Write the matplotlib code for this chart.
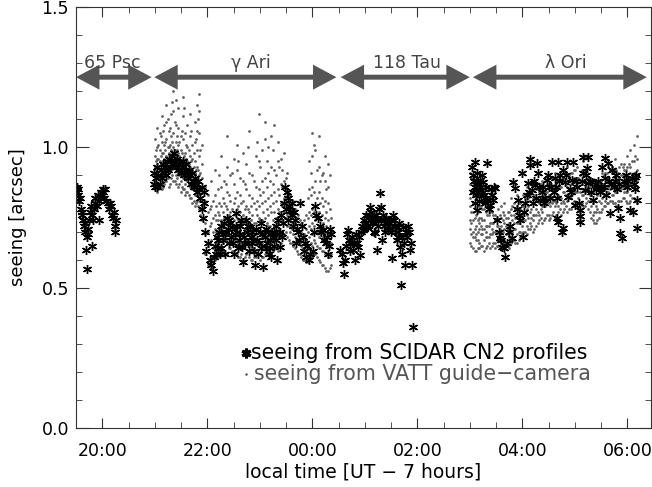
import numpy as np
import matplotlib.pyplot as plt
from matplotlib.patches import FancyArrowPatch

# SCIDAR seeing (asterisks); time in hours, values past 24 are after midnight
scidar_t_psc = [19.50, 19.51, 19.52, 19.53, 19.54, 19.56, 19.57, 19.59, 19.61, 19.62,
                19.64, 19.65, 19.67, 19.68, 19.70, 19.72, 19.73, 19.75, 19.77, 19.78,
                19.80, 19.82, 19.84, 19.86, 19.87, 19.89, 19.91, 19.93, 19.95, 19.97,
                19.99, 20.01, 20.02, 20.04, 20.06, 20.08, 20.10, 20.12, 20.14, 20.16,
                20.18, 20.20, 20.22, 20.24, 20.25, 20.26, 19.69, 19.71, 19.80, 19.94]
scidar_v_psc = [0.85, 0.84, 0.86, 0.83, 0.85, 0.81, 0.82, 0.78, 0.76, 0.77,
                0.74, 0.72, 0.70, 0.73, 0.68, 0.69, 0.71, 0.74, 0.77, 0.79,
                0.76, 0.74, 0.78, 0.80, 0.82, 0.79, 0.83, 0.81, 0.82, 0.84,
                0.83, 0.85, 0.84, 0.82, 0.85, 0.81, 0.80, 0.78, 0.80, 0.79,
                0.76, 0.75, 0.77, 0.72, 0.70, 0.74, 0.635, 0.565, 0.65, 0.74]

scidar_t_ari = [20.98, 20.99, 21.01, 21.02, 21.04, 21.05, 21.07, 21.09, 21.11, 21.13,
                21.15, 21.17, 21.19, 21.21, 21.23, 21.25, 21.27, 21.29, 21.31, 21.33,
                21.35, 21.37, 21.39, 21.41, 21.43, 21.45, 21.47, 21.49, 21.51, 21.53,
                21.55, 21.57, 21.59, 21.61, 21.63, 21.65, 21.67, 21.69, 21.71, 21.73,
                21.75, 21.77, 21.79, 21.81, 21.83, 21.85, 21.87, 21.89, 21.90, 21.91,
                21.93, 21.94, 21.96, 21.98, 22.02, 22.05, 22.07, 22.10, 22.12, 22.15,
                22.18, 22.20, 22.22, 22.24, 22.27, 22.29, 22.31, 22.34, 22.37, 22.39,
                22.42, 22.44, 22.47, 22.50, 22.52, 22.55, 22.57, 22.60, 22.63, 22.66,
                22.68, 22.70, 22.73, 22.75, 22.78, 22.81, 22.83, 22.86, 22.89, 22.91,
                22.94, 22.97, 23.00, 23.03, 23.06, 23.09, 23.12, 23.14, 23.17, 23.20,
                23.23, 23.25, 23.28, 23.31, 23.33, 23.36, 23.39, 23.41, 23.44, 23.46,
                23.48, 23.51, 23.54, 23.56, 23.58, 23.61, 23.64, 23.67, 23.70, 23.73,
                23.75, 23.77, 23.80, 23.82, 23.86, 23.90, 23.93, 23.96, 24.01, 24.03,
                24.05, 24.08, 24.11, 24.14, 24.17, 24.20, 24.23, 24.26, 24.28, 24.30,
                24.32, 24.34, 24.36,
                22.16, 22.21, 22.26, 22.33, 22.36, 22.41, 22.46, 22.49, 22.54, 22.58,
                22.62, 22.65, 22.72, 22.77, 22.80, 22.85, 22.88, 22.93, 22.99, 23.02,
                23.05, 23.11, 23.16, 23.19, 23.22, 23.27, 23.30, 23.35, 23.38, 23.43,
                23.50, 23.53, 23.62, 23.66, 23.69, 23.84, 23.88]
scidar_v_ari = [0.87, 0.91, 0.86, 0.89, 0.93, 0.86, 0.90, 0.87, 0.92, 0.89,
                0.94, 0.91, 0.93, 0.90, 0.95, 0.92, 0.96, 0.93, 0.95, 0.97,
                0.94, 0.98, 0.95, 0.93, 0.96, 0.92, 0.94, 0.91, 0.93, 0.95,
                0.90, 0.92, 0.94, 0.91, 0.89, 0.92, 0.90, 0.87, 0.91, 0.88,
                0.86, 0.89, 0.87, 0.84, 0.88, 0.85, 0.82, 0.86, 0.78, 0.75,
                0.84, 0.80, 0.70, 0.63, 0.66, 0.60, 0.58, 0.56, 0.61, 0.65,
                0.68, 0.64, 0.70, 0.62, 0.72, 0.67, 0.73, 0.69, 0.75, 0.71,
                0.66, 0.73, 0.715, 0.62, 0.69, 0.765, 0.70, 0.67, 0.72, 0.645,
                0.59, 0.68, 0.74, 0.70, 0.66, 0.715, 0.68, 0.66, 0.63, 0.58,
                0.67, 0.62, 0.70, 0.64, 0.575, 0.68, 0.71, 0.66, 0.62, 0.64,
                0.70, 0.68, 0.65, 0.72, 0.60, 0.69, 0.645, 0.76, 0.73, 0.80,
                0.86, 0.84, 0.82, 0.79, 0.775, 0.76, 0.72, 0.74, 0.71, 0.70,
                0.67, 0.80, 0.72, 0.68, 0.66, 0.65, 0.60, 0.62, 0.63, 0.70,
                0.79, 0.76, 0.75, 0.72, 0.70, 0.705, 0.67, 0.66, 0.68, 0.62,
                0.65, 0.71, 0.69,
                0.62, 0.67, 0.64, 0.62, 0.70, 0.74, 0.68, 0.66, 0.72, 0.64,
                0.69, 0.74, 0.66, 0.72, 0.63, 0.70, 0.67, 0.71, 0.66, 0.73,
                0.69, 0.64, 0.70, 0.67, 0.61, 0.70, 0.67, 0.74, 0.70, 0.68,
                0.78, 0.74, 0.80, 0.77, 0.66, 0.63, 0.61]

scidar_t_tau = [24.53, 24.56, 24.59, 24.60, 24.62, 24.64, 24.66, 24.68, 24.70, 24.72,
                24.75, 24.78, 24.80, 24.81, 24.84, 24.87, 24.89, 24.91, 24.93, 24.95,
                24.97, 24.98, 25.01, 25.04, 25.06, 25.08, 25.10, 25.12, 25.14, 25.16,
                25.18, 25.20, 25.23, 25.25, 25.27, 25.29, 25.30, 25.33, 25.35, 25.37,
                25.40, 25.42, 25.44, 25.47, 25.50, 25.52, 25.54, 25.56, 25.58, 25.61,
                25.63, 25.65, 25.67, 25.69, 25.71, 25.73, 25.76, 25.78, 25.80, 25.82,
                25.84, 25.86, 25.88, 25.90, 25.91,
                24.99, 25.03, 25.07, 25.13, 25.17, 25.22, 25.26, 25.31, 25.36, 25.39,
                25.45, 25.49, 25.57, 25.60, 25.64, 25.70, 25.74, 24.71, 24.76, 24.85]
scidar_v_tau = [0.633, 0.62, 0.587, 0.55, 0.60, 0.65, 0.69, 0.705, 0.67, 0.66,
                0.68, 0.633, 0.66, 0.60, 0.69, 0.645, 0.68, 0.615, 0.70, 0.72,
                0.705, 0.74, 0.73, 0.715, 0.75, 0.76, 0.787, 0.77, 0.75, 0.733,
                0.76, 0.694, 0.633, 0.74, 0.78, 0.836, 0.787, 0.67, 0.758, 0.74,
                0.75, 0.733, 0.705, 0.72, 0.74, 0.605, 0.758, 0.74, 0.715, 0.67,
                0.70, 0.73, 0.645, 0.51, 0.62, 0.715, 0.58, 0.70, 0.68, 0.72,
                0.70, 0.633, 0.66, 0.58, 0.36,
                0.71, 0.76, 0.72, 0.73, 0.70, 0.76, 0.72, 0.74, 0.72, 0.70,
                0.74, 0.70, 0.72, 0.70, 0.68, 0.68, 0.66, 0.63, 0.66, 0.66]

scidar_t_ori = [27.05, 27.07, 27.08, 27.10, 27.10, 27.12, 27.14, 27.14, 27.16, 27.18,
                27.20, 27.22, 27.25, 27.25, 27.28, 27.30, 27.33, 27.33, 27.36, 27.39,
                27.42, 27.44, 27.46, 27.48, 27.52, 27.55, 27.58, 27.60, 27.62, 27.65,
                27.67, 27.70, 27.74, 27.77, 27.80, 27.82, 27.86, 27.89, 27.92, 27.94,
                27.96, 27.99, 28.01, 28.03, 28.05, 28.08, 28.11, 28.15, 28.15, 28.19,
                28.21, 28.24, 28.26, 28.28, 28.30, 28.34, 28.37, 28.40, 28.44, 28.47,
                28.49, 28.53, 28.55, 28.57, 28.60, 28.62, 28.66, 28.66, 28.68, 28.68,
                28.72, 28.76, 28.78, 28.78, 28.81, 28.85, 28.87, 28.90, 28.95, 28.97,
                29.00, 29.04, 29.08, 29.10, 29.10, 29.10, 29.13, 29.16, 29.16, 29.19,
                29.23, 29.25, 29.26, 29.30, 29.33, 29.35, 29.40, 29.45, 29.49, 29.52,
                29.55, 29.58, 29.60, 29.63, 29.66, 29.67, 29.71, 29.74, 29.78, 29.82,
                29.84, 29.86, 29.86, 29.90, 29.93, 29.97, 30.00, 30.05, 30.08, 30.10,
                30.12, 30.15, 30.19, 30.19,
                27.06, 27.09, 27.11, 27.13, 27.17, 27.21, 27.23, 27.27, 27.31, 27.40,
                28.13, 28.22, 28.32, 28.42, 28.51, 28.64, 28.70, 28.83, 28.92, 29.02,
                29.21, 29.29, 29.43, 29.47, 29.57, 29.69, 29.76, 29.80, 29.95, 30.02,
                30.14, 30.17]
scidar_v_ori = [0.93, 0.84, 0.88, 0.947, 0.80, 0.86, 0.907, 0.776, 0.84, 0.87,
                0.883, 0.83, 0.876, 0.84, 0.80, 0.86, 0.943, 0.811, 0.78, 0.794,
                0.83, 0.811, 0.86, 0.854, 0.74, 0.70, 0.676, 0.67, 0.644, 0.64,
                0.609, 0.66, 0.70, 0.72, 0.676, 0.876, 0.854, 0.78, 0.811, 0.76,
                0.74, 0.907, 0.68, 0.77, 0.80, 0.83, 0.872, 0.96, 0.936, 0.847,
                0.80, 0.865, 0.82, 0.943, 0.91, 0.811, 0.84, 0.858, 0.82, 0.883,
                0.90, 0.818, 0.86, 0.947, 0.84, 0.89, 0.818, 0.747, 0.947, 0.733,
                0.90, 0.697, 0.918, 0.712, 0.876, 0.947, 0.822, 0.85, 0.883, 0.947,
                0.794, 0.86, 0.80, 0.776, 0.755, 0.733, 0.88, 0.964, 0.907, 0.847,
                0.925, 0.872, 0.964, 0.84, 0.876, 0.811, 0.85, 0.88, 0.86, 0.929,
                0.858, 0.961, 0.829, 0.943, 0.88, 0.765, 0.918, 0.86, 0.90, 0.783,
                0.87, 0.747, 0.694, 0.676, 0.88, 0.90, 0.86, 0.776, 0.89, 0.769,
                0.87, 0.893, 0.811, 0.712,
                0.90, 0.86, 0.83, 0.88, 0.81, 0.86, 0.90, 0.83, 0.82, 0.85,
                0.84, 0.88, 0.86, 0.80, 0.86, 0.86, 0.88, 0.90, 0.84, 0.88,
                0.90, 0.88, 0.86, 0.84, 0.89, 0.87, 0.88, 0.85, 0.87, 0.88,
                0.85, 0.90]

# VATT guide-camera seeing: one column of readings per time stamp
vatt_t = [21.00, 21.04, 21.09, 21.13, 21.18, 21.22, 21.27, 21.31, 21.35, 21.40,
          21.44, 21.49, 21.53, 21.58, 21.62, 21.67, 21.71, 21.76, 21.80, 21.85,
          21.89,
          21.96, 22.02, 22.08, 22.14, 22.20, 22.26, 22.32, 22.38, 22.44, 22.50,
          22.56, 22.62, 22.68, 22.74, 22.80, 22.86, 22.92, 22.98, 23.04, 23.10,
          23.16, 23.22, 23.28, 23.34, 23.40, 23.46, 23.52, 23.58, 23.64, 23.70,
          23.76, 23.82, 23.88, 23.94, 24.00, 24.06, 24.12, 24.18, 24.24, 24.30,
          24.36,
          27.00, 27.06, 27.12, 27.18, 27.24, 27.30, 27.36, 27.42, 27.48, 27.54,
          27.60, 27.66, 27.72, 27.78, 27.84, 27.90, 27.96, 28.02, 28.08, 28.14,
          28.20, 28.26, 28.32, 28.38, 28.44, 28.50, 28.56, 28.62, 28.68, 28.74,
          28.80, 28.86, 28.92, 28.98, 29.04, 29.10, 29.16, 29.22, 29.28, 29.34,
          29.40, 29.46, 29.52, 29.58, 29.64, 29.70, 29.76, 29.82, 29.88, 29.94,
          30.00, 30.06, 30.12, 30.18]
vatt_v = [
    [0.85, 0.88, 0.90, 0.93, 0.97, 1.03],
    [0.84, 0.87, 0.91, 0.94, 0.96, 1.00, 1.07],
    [0.86, 0.89, 0.92, 0.95, 0.99, 1.05],
    [0.85, 0.88, 0.90, 0.94, 0.98, 1.02, 1.11],
    [0.87, 0.91, 0.93, 0.96, 1.01, 1.08],
    [0.88, 0.90, 0.94, 0.97, 1.03, 1.09, 1.15],
    [0.86, 0.91, 0.95, 0.98, 1.00, 1.06],
    [0.89, 0.92, 0.96, 0.99, 1.04, 1.12],
    [0.88, 0.93, 0.95, 1.00, 1.05, 1.13, 1.20],
    [0.87, 0.90, 0.94, 0.97, 1.02, 1.08, 1.17],
    [0.86, 0.91, 0.93, 0.98, 1.01, 1.07, 1.14],
    [0.84, 0.88, 0.92, 0.95, 0.99, 1.04],
    [0.85, 0.89, 0.93, 0.96, 1.03, 1.11, 1.18],
    [0.83, 0.87, 0.90, 0.94, 0.98, 1.05],
    [0.84, 0.88, 0.92, 0.95, 1.00, 1.08],
    [0.82, 0.86, 0.89, 0.93, 0.97, 1.04, 1.12],
    [0.80, 0.85, 0.88, 0.92, 0.96, 1.01],
    [0.79, 0.83, 0.87, 0.91, 0.95, 1.02, 1.09],
    [0.81, 0.84, 0.88, 0.93, 0.99, 1.06, 1.15],
    [0.78, 0.82, 0.86, 0.90, 0.97, 1.05, 1.13, 1.19],
    [0.74, 0.79, 0.84, 0.89, 0.94, 1.01],
    [0.62, 0.69, 0.73, 0.81, 0.86],
    [0.58, 0.65, 0.70, 0.77, 0.83],
    [0.57, 0.61, 0.67, 0.73, 0.79, 0.88],
    [0.60, 0.63, 0.68, 0.71, 0.76, 0.83, 0.92],
    [0.61, 0.66, 0.69, 0.74, 0.77, 0.85],
    [0.62, 0.65, 0.71, 0.74, 0.79, 0.86, 0.97],
    [0.63, 0.68, 0.70, 0.75, 0.80, 0.88],
    [0.62, 0.66, 0.71, 0.73, 0.78, 0.84, 0.93, 1.04],
    [0.64, 0.67, 0.72, 0.77, 0.81, 0.90],
    [0.63, 0.68, 0.71, 0.74, 0.80, 0.87, 0.96],
    [0.62, 0.65, 0.70, 0.75, 0.78, 0.84, 0.92, 1.01],
    [0.61, 0.66, 0.69, 0.72, 0.77, 0.83, 0.89],
    [0.60, 0.64, 0.68, 0.73, 0.76, 0.81, 0.88, 0.98],
    [0.62, 0.67, 0.70, 0.74, 0.79, 0.85, 0.94],
    [0.61, 0.65, 0.69, 0.72, 0.77, 0.83, 0.91, 1.06],
    [0.60, 0.64, 0.69, 0.72, 0.76, 0.82, 0.90],
    [0.61, 0.66, 0.69, 0.73, 0.78, 0.86, 0.97],
    [0.62, 0.65, 0.70, 0.75, 0.79, 0.85, 0.95, 1.12],
    [0.61, 0.66, 0.69, 0.74, 0.80, 0.88, 0.99],
    [0.62, 0.65, 0.71, 0.75, 0.81, 0.89, 1.03, 1.09],
    [0.63, 0.67, 0.72, 0.76, 0.82, 0.91, 1.00],
    [0.62, 0.66, 0.71, 0.77, 0.83, 0.93, 1.04],
    [0.64, 0.68, 0.72, 0.77, 0.84, 0.92, 1.08],
    [0.63, 0.68, 0.73, 0.78, 0.85, 0.95, 1.02],
    [0.66, 0.70, 0.75, 0.80, 0.87, 0.96],
    [0.69, 0.73, 0.77, 0.82, 0.88, 0.98],
    [0.68, 0.72, 0.76, 0.80, 0.85, 0.91],
    [0.66, 0.70, 0.74, 0.78, 0.83],
    [0.65, 0.69, 0.73, 0.77, 0.81],
    [0.63, 0.67, 0.71, 0.75],
    [0.62, 0.66, 0.70, 0.74],
    [0.60, 0.64, 0.68, 0.72],
    [0.59, 0.63, 0.67, 0.71, 0.76],
    [0.60, 0.64, 0.68, 0.72, 0.77, 0.85, 0.95],
    [0.61, 0.65, 0.69, 0.73, 0.78, 0.86, 0.97, 1.05],
    [0.62, 0.66, 0.70, 0.74, 0.79, 0.88, 0.99],
    [0.60, 0.64, 0.68, 0.72, 0.77, 0.84, 0.93, 1.04],
    [0.58, 0.63, 0.67, 0.71, 0.76, 0.82, 0.90],
    [0.57, 0.62, 0.66, 0.70, 0.75, 0.81, 0.88, 0.97],
    [0.56, 0.61, 0.65, 0.69, 0.74, 0.80, 0.86, 0.94],
    [0.58, 0.62, 0.66, 0.70, 0.75],
    [0.66, 0.71, 0.74, 0.79, 0.82, 0.87, 0.91],
    [0.64, 0.68, 0.70, 0.74, 0.77, 0.80, 0.85],
    [0.63, 0.67, 0.69, 0.72, 0.76, 0.78, 0.82],
    [0.64, 0.66, 0.71, 0.73, 0.75, 0.79],
    [0.65, 0.69, 0.71, 0.74, 0.78, 0.81],
    [0.64, 0.68, 0.70, 0.72, 0.77, 0.79],
    [0.66, 0.68, 0.72, 0.76, 0.78],
    [0.65, 0.69, 0.71, 0.73, 0.77, 0.80],
    [0.64, 0.66, 0.70, 0.74, 0.76],
    [0.65, 0.68, 0.72, 0.74, 0.78],
    [0.66, 0.70, 0.72, 0.75, 0.79],
    [0.64, 0.67, 0.71, 0.73, 0.76, 0.80],
    [0.65, 0.69, 0.71, 0.75, 0.77],
    [0.66, 0.68, 0.72, 0.76, 0.78, 0.82],
    [0.67, 0.71, 0.73, 0.76, 0.80],
    [0.66, 0.69, 0.73, 0.75, 0.79, 0.83],
    [0.68, 0.70, 0.74, 0.78, 0.80],
    [0.70, 0.74, 0.76, 0.79, 0.83],
    [0.69, 0.72, 0.76, 0.78, 0.81, 0.86],
    [0.71, 0.73, 0.77, 0.81, 0.83],
    [0.70, 0.74, 0.76, 0.80, 0.82, 0.87],
    [0.72, 0.76, 0.78, 0.81, 0.85],
    [0.74, 0.76, 0.80, 0.84, 0.86],
    [0.73, 0.77, 0.79, 0.82, 0.86, 0.88],
    [0.75, 0.79, 0.81, 0.84, 0.88],
    [0.74, 0.76, 0.80, 0.83, 0.87, 0.90],
    [0.76, 0.80, 0.82, 0.85, 0.89],
    [0.75, 0.79, 0.81, 0.85, 0.87, 0.91],
    [0.77, 0.79, 0.83, 0.86, 0.90],
    [0.76, 0.80, 0.82, 0.86, 0.88],
    [0.78, 0.80, 0.84, 0.88, 0.91],
    [0.77, 0.81, 0.83, 0.86, 0.90, 0.93],
    [0.78, 0.82, 0.84, 0.87, 0.91],
    [0.79, 0.81, 0.85, 0.89, 0.92],
    [0.80, 0.84, 0.86, 0.89, 0.93],
    [0.78, 0.80, 0.84, 0.88, 0.90],
    [0.79, 0.83, 0.85, 0.88, 0.92, 0.95],
    [0.80, 0.82, 0.86, 0.90, 0.92],
    [0.77, 0.81, 0.83, 0.86, 0.89],
    [0.74, 0.76, 0.80, 0.84, 0.86],
    [0.73, 0.77, 0.79, 0.82, 0.86, 0.88],
    [0.75, 0.77, 0.81, 0.85, 0.87],
    [0.78, 0.82, 0.84, 0.87, 0.91],
    [0.79, 0.81, 0.85, 0.89, 0.91],
    [0.80, 0.84, 0.86, 0.89, 0.93],
    [0.81, 0.83, 0.87, 0.91, 0.93],
    [0.80, 0.84, 0.86, 0.89, 0.92, 0.96],
    [0.79, 0.81, 0.85, 0.88, 0.91],
    [0.81, 0.85, 0.87, 0.90, 0.94],
    [0.82, 0.84, 0.88, 0.92, 0.94],
    [0.80, 0.84, 0.86, 0.89, 0.93, 0.97],
    [0.81, 0.83, 0.87, 0.91, 0.93, 0.99],
    [0.82, 0.86, 0.88, 0.91, 0.95, 1.01],
    [0.80, 0.85, 0.88, 0.92, 0.96, 1.04],
]

# further VATT frames taken between the columns above
vatt_t_b = [21.02, 21.07, 21.11, 21.16, 21.20, 21.25, 21.29, 21.33, 21.38, 21.42,
            21.47, 21.51, 21.56, 21.60, 21.65, 21.69, 21.74, 21.78, 21.83, 21.87,
            22.05, 22.11, 22.17, 22.23, 22.29, 22.35, 22.41, 22.47, 22.53, 22.59,
            22.65, 22.71, 22.77, 22.83, 22.89, 22.95, 23.01, 23.07, 23.13, 23.19,
            23.25, 23.31, 23.37, 23.43, 23.49, 23.55, 23.61, 23.67, 23.73, 23.79,
            23.85, 23.91, 23.97, 24.03, 24.09, 24.15, 24.21, 24.27, 24.33,
            27.03, 27.09, 27.15, 27.21, 27.27, 27.33, 27.39, 27.45, 27.51, 27.57,
            27.63, 27.69, 27.75, 27.81, 27.87, 27.93, 27.99, 28.05, 28.11, 28.17,
            28.23, 28.29, 28.35, 28.41, 28.47, 28.53, 28.59, 28.65, 28.71, 28.77,
            28.83, 28.89, 28.95, 29.01, 29.07, 29.13, 29.19, 29.25, 29.31, 29.37,
            29.43, 29.49, 29.55, 29.61, 29.67, 29.73, 29.79, 29.85, 29.91, 29.97,
            30.03, 30.09, 30.15]
vatt_v_b = [
    [0.86, 0.89, 0.92, 0.95, 0.99], [0.85, 0.90, 0.93, 0.96, 1.01],
    [0.87, 0.90, 0.94, 0.97, 1.04], [0.86, 0.91, 0.95, 0.98, 1.06],
    [0.88, 0.92, 0.95, 0.99, 1.02], [0.89, 0.93, 0.96, 1.00, 1.10],
    [0.87, 0.92, 0.96, 1.01, 1.07], [0.90, 0.94, 0.97, 1.02, 1.16],
    [0.88, 0.93, 0.96, 0.99, 1.09], [0.89, 0.92, 0.95, 0.99, 1.04],
    [0.87, 0.90, 0.94, 0.97, 1.02], [0.86, 0.91, 0.94, 0.98, 1.06],
    [0.85, 0.89, 0.93, 0.97, 1.14], [0.84, 0.89, 0.92, 0.96, 1.01],
    [0.83, 0.87, 0.91, 0.94, 0.99], [0.82, 0.86, 0.90, 0.95, 1.06],
    [0.81, 0.85, 0.89, 0.93, 0.98], [0.80, 0.84, 0.88, 0.92, 1.03],
    [0.79, 0.83, 0.87, 0.92, 1.10], [0.76, 0.81, 0.86, 0.91, 0.99],
    [0.60, 0.66, 0.72, 0.78], [0.59, 0.64, 0.70, 0.75, 0.81],
    [0.61, 0.66, 0.70, 0.74, 0.79], [0.62, 0.67, 0.71, 0.76, 0.80, 0.90],
    [0.63, 0.66, 0.72, 0.77, 0.82], [0.62, 0.67, 0.70, 0.75, 0.79, 0.87],
    [0.64, 0.69, 0.73, 0.76, 0.83], [0.63, 0.66, 0.71, 0.75, 0.78, 0.91],
    [0.62, 0.67, 0.72, 0.76, 0.82], [0.61, 0.66, 0.70, 0.74, 0.79, 0.95],
    [0.62, 0.65, 0.69, 0.74, 0.80], [0.61, 0.66, 0.71, 0.75, 0.78, 0.87],
    [0.63, 0.67, 0.70, 0.73, 0.78, 1.00], [0.60, 0.65, 0.69, 0.74, 0.79],
    [0.61, 0.64, 0.68, 0.73, 0.80, 0.88], [0.62, 0.67, 0.71, 0.76, 0.81, 1.02],
    [0.60, 0.66, 0.70, 0.74, 0.83, 0.93], [0.61, 0.65, 0.70, 0.77, 0.84],
    [0.63, 0.68, 0.73, 0.78, 0.86, 0.95], [0.62, 0.67, 0.72, 0.79, 0.88],
    [0.63, 0.69, 0.74, 0.80, 0.87, 0.99], [0.64, 0.70, 0.75, 0.81, 0.90],
    [0.65, 0.71, 0.77, 0.83, 0.93], [0.68, 0.74, 0.79, 0.86, 0.92],
    [0.70, 0.75, 0.80, 0.84, 0.89], [0.67, 0.72, 0.77, 0.81],
    [0.66, 0.71, 0.75, 0.80], [0.64, 0.68, 0.73, 0.78],
    [0.62, 0.67, 0.71, 0.76], [0.61, 0.65, 0.70, 0.73],
    [0.60, 0.64, 0.69, 0.74], [0.59, 0.65, 0.70, 0.75, 0.82],
    [0.61, 0.66, 0.71, 0.76, 0.83, 0.91], [0.62, 0.67, 0.72, 0.77, 0.84, 1.01],
    [0.61, 0.65, 0.70, 0.76, 0.82, 0.92], [0.59, 0.64, 0.69, 0.74, 0.80, 0.88],
    [0.58, 0.63, 0.68, 0.73, 0.79, 0.91], [0.56, 0.62, 0.67, 0.72, 0.77, 0.85],
    [0.57, 0.61, 0.66, 0.71, 0.78, 0.90],
    [0.65, 0.69, 0.73, 0.77, 0.84, 0.89], [0.63, 0.68, 0.71, 0.75, 0.80],
    [0.64, 0.67, 0.70, 0.74, 0.77], [0.65, 0.69, 0.72, 0.75, 0.79],
    [0.63, 0.67, 0.71, 0.74, 0.78], [0.65, 0.68, 0.72, 0.76],
    [0.64, 0.69, 0.73, 0.77], [0.66, 0.70, 0.73, 0.76],
    [0.65, 0.67, 0.72, 0.75], [0.64, 0.68, 0.71, 0.76],
    [0.66, 0.70, 0.74, 0.77], [0.65, 0.69, 0.72, 0.75],
    [0.64, 0.68, 0.73, 0.77], [0.67, 0.70, 0.74, 0.79],
    [0.66, 0.71, 0.75, 0.78], [0.67, 0.70, 0.73, 0.77, 0.81],
    [0.69, 0.72, 0.76, 0.79], [0.70, 0.74, 0.77, 0.82],
    [0.71, 0.75, 0.79, 0.82], [0.72, 0.75, 0.78, 0.84],
    [0.71, 0.76, 0.80, 0.83], [0.73, 0.77, 0.81, 0.85],
    [0.75, 0.78, 0.82, 0.87], [0.74, 0.79, 0.83, 0.86],
    [0.76, 0.80, 0.84, 0.88], [0.75, 0.79, 0.83, 0.87],
    [0.77, 0.81, 0.84, 0.89], [0.76, 0.80, 0.85, 0.88],
    [0.78, 0.82, 0.86, 0.90], [0.77, 0.81, 0.84, 0.89],
    [0.79, 0.83, 0.87, 0.91], [0.78, 0.82, 0.85, 0.90],
    [0.80, 0.83, 0.87, 0.91], [0.79, 0.84, 0.88, 0.92],
    [0.78, 0.82, 0.86, 0.89], [0.80, 0.83, 0.87, 0.92],
    [0.79, 0.84, 0.88, 0.91], [0.78, 0.81, 0.85, 0.89],
    [0.75, 0.79, 0.83, 0.87], [0.73, 0.77, 0.81, 0.85],
    [0.74, 0.78, 0.83, 0.86], [0.77, 0.80, 0.84, 0.88],
    [0.79, 0.83, 0.87, 0.90], [0.80, 0.84, 0.88, 0.91],
    [0.81, 0.85, 0.88, 0.92], [0.80, 0.83, 0.87, 0.91],
    [0.79, 0.84, 0.88, 0.92], [0.81, 0.85, 0.89, 0.93],
    [0.82, 0.86, 0.90, 0.93], [0.81, 0.84, 0.88, 0.92],
    [0.80, 0.85, 0.89, 0.94], [0.82, 0.86, 0.90, 0.95],
    [0.81, 0.87, 0.91, 0.97],
]

spans = [(19.50, 20.94, "65 Psc", 20.20),
         (20.99, 24.46, "\u03b3 Ari", 22.83),
         (24.54, 27.00, "118 Tau", 25.80),
         (27.06, 30.37, "\u03bb Ori", 28.83)]

xtick_pos = [20, 22, 24, 26, 28, 30]
xtick_lab = ["20:00", "22:00", "00:00", "02:00", "04:00", "06:00"]

fig = plt.figure(figsize=(6.52, 4.87), dpi=100)
ax = fig.add_axes([0.1166, 0.1211, 0.8818, 0.8645])

vx, vy = [], []
for t, col in list(zip(vatt_t, vatt_v)) + list(zip(vatt_t_b, vatt_v_b)):
    vx += [t] * len(col)
    vy += col
ax.plot(vx, vy, 'o', ms=2.0, mew=0, color='#606060')

ast = (6, 2, 0)
for t, v in [(scidar_t_psc, scidar_v_psc), (scidar_t_ari, scidar_v_ari),
             (scidar_t_tau, scidar_v_tau), (scidar_t_ori, scidar_v_ori)]:
    ax.plot(t, v, ls='none', marker=ast, ms=6.5, mew=1.0, color='black')

for x0, x1, lab, lx in spans:
    arr = FancyArrowPatch((x0, 1.25), (x1, 1.25),
                          arrowstyle='<|-|>,head_length=0.75,head_width=0.4',
                          mutation_scale=15, lw=3.6, color='#555555',
                          shrinkA=0, shrinkB=0, joinstyle='miter', capstyle='butt')
    ax.add_patch(arr)
    ax.text(lx, 1.30, lab, ha='center', va='center', fontsize=12.5, color='#444444')

# legend drawn by hand
ax.plot([0.296], [0.178], transform=ax.transAxes, ls='none', marker=ast,
        ms=7, mew=2.2, color='black')
ax.text(0.305, 0.178, "seeing from SCIDAR CN2 profiles", transform=ax.transAxes,
        ha='left', va='center', fontsize=14.8, color='black')
ax.plot([0.296], [0.128], transform=ax.transAxes, ls='none', marker='o',
        ms=1.8, mew=0, color='#555555')
ax.text(0.309, 0.128, "seeing from VATT guide\u2212camera", transform=ax.transAxes,
        ha='left', va='center', fontsize=14.8, color='#555555')

ax.set_xlim(19.5, 30.45)
ax.set_ylim(0, 1.5)
ax.set_xticks(xtick_pos)
ax.set_xticklabels(xtick_lab)
ax.set_xticks(np.arange(19.5, 30.5, 0.5), minor=True)
ax.set_yticks([0, 0.5, 1.0, 1.5])
ax.set_yticklabels(["0.0", "0.5", "1.0", "1.5"])
ax.set_yticks(np.arange(0, 1.51, 0.1), minor=True)
ax.tick_params(which='both', direction='in', top=True, right=True,
               labelsize=12.5, color='#333333')
ax.tick_params(axis='x', which='major', length=7, pad=10)
ax.tick_params(axis='x', which='minor', length=4.5)
ax.tick_params(axis='y', which='major', length=9, pad=5)
ax.tick_params(axis='y', which='minor', length=4.5)
for s in ax.spines.values():
    s.set_color('#333333')

ax.set_xlabel("local time [UT \u2212 7 hours]", fontsize=13.5)
ax.set_ylabel("seeing [arcsec]", fontsize=13)
ax.xaxis.set_label_coords(0.499, -0.083)
ax.yaxis.set_label_coords(-0.085, 0.5)

fig.savefig("out.png", dpi=100)
